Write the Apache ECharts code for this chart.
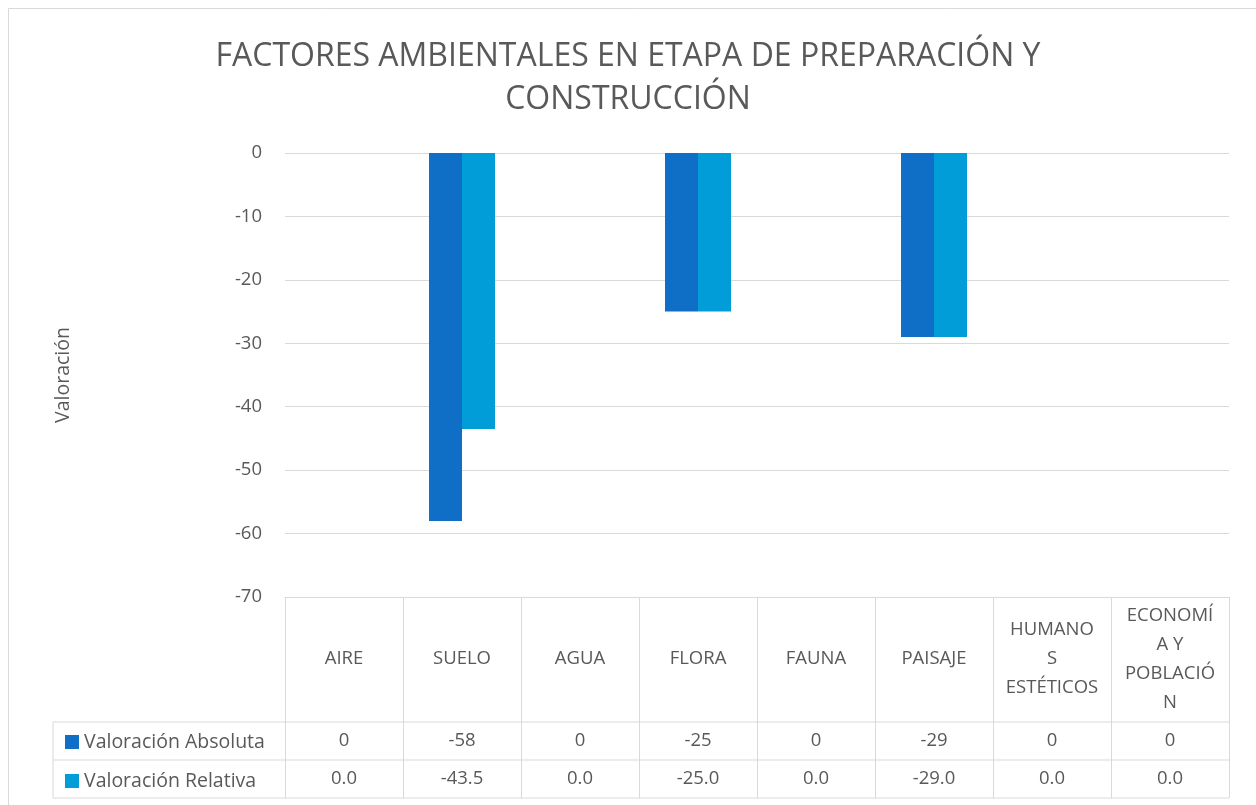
<!DOCTYPE html>
<html>
<head>
<meta charset="utf-8">
<script src="https://cdn.jsdelivr.net/npm/echarts@6/dist/echarts.min.js"></script>
<style>
  html, body { margin: 0; padding: 0; background: #fff; }
  #chart { width: 1256px; height: 805px; }
</style>
</head>
<body>
<div id="chart"></div>
<script>
const categorias = ['AIRE', 'SUELO', 'AGUA', 'FLORA', 'FAUNA', 'PAISAJE', 'HUMANO\nS\nESTÉTICOS', 'ECONOMÍ\nA Y\nPOBLACIÓ\nN'];
const valAbsoluta = [0, -58, 0, -25, 0, -29, 0, 0];
const valRelativa = [0, -43.5, 0, -25, 0, -29, 0, 0];
const ticksY = [0, -10, -20, -30, -40, -50, -60, -70];

const gris = '#595959';
const linea = '#d9d9d9';
const fuente = 'Open Sans';
const tam = 18.5;

// posicion del area de trazado
const gLeft = 285, gRight = 1229, gTop = 153, gBottom = 597;
const filaCab = 722, fila1 = 760, fila2 = 798, tablaIzq = 53;

const chart = echarts.init(document.getElementById('chart'));

const option = {
  animation: false,
  backgroundColor: '#fff',
  textStyle: { fontFamily: fuente },
  title: {
    text: 'FACTORES AMBIENTALES EN ETAPA DE PREPARACIÓN Y\nCONSTRUCCIÓN',
    left: 'center',
    top: 30,
    textStyle: { fontFamily: fuente, fontSize: 32, fontWeight: 'normal', color: gris, lineHeight: 43 }
  },
  legend: {
    orient: 'vertical',
    left: 60,
    top: 727,
    icon: 'rect',
    itemWidth: 14,
    itemHeight: 14,
    itemGap: 19,
    textStyle: { fontFamily: fuente, fontSize: 19.5, color: gris, lineHeight: 18 },
    data: ['Valoración Absoluta', 'Valoración Relativa']
  },
  grid: { left: gLeft, right: 1256 - gRight, top: gTop, bottom: 805 - gBottom, containLabel: false },
  xAxis: [
    {
      type: 'category',
      data: categorias,
      position: 'bottom',
      axisLine: { show: true, onZero: false, lineStyle: { color: linea, width: 1 } },
      axisTick: { show: true, length: fila2 - gBottom, interval: 0, lineStyle: { color: linea, width: 1 } },
      axisLabel: {
        interval: 0, margin: 62, verticalAlign: 'middle', lineHeight: 29,
        fontFamily: fuente, fontSize: tam, color: gris
      },
      splitLine: { show: false }
    },
    {
      type: 'category',
      data: categorias,
      position: 'bottom',
      axisLine: { show: false, onZero: false },
      axisTick: { show: false },
      axisLabel: {
        interval: 0, margin: 144, verticalAlign: 'middle',
        fontFamily: fuente, fontSize: tam, color: gris,
        formatter: (v, i) => String(valAbsoluta[i])
      }
    },
    {
      type: 'category',
      data: categorias,
      position: 'bottom',
      axisLine: { show: false, onZero: false },
      axisTick: { show: false },
      axisLabel: {
        interval: 0, margin: 182, verticalAlign: 'middle',
        fontFamily: fuente, fontSize: tam, color: gris,
        formatter: (v, i) => valRelativa[i].toFixed(1)
      }
    }
  ],
  yAxis: {
    type: 'value',
    min: ticksY[ticksY.length - 1],
    max: ticksY[0],
    interval: 10,
    name: 'Valoración',
    nameLocation: 'middle',
    nameGap: 212,
    nameRotate: 90,
    nameTextStyle: { fontFamily: fuente, fontSize: 19.5, color: gris },
    axisLine: { show: false },
    axisTick: { show: false },
    axisLabel: { margin: 23, fontFamily: fuente, fontSize: tam, color: gris },
    splitLine: { lineStyle: { color: linea, width: 1 } }
  },
  series: [
    {
      name: 'Valoración Absoluta',
      type: 'bar',
      xAxisIndex: 0,
      barWidth: 33,
      barGap: '0%',
      itemStyle: { color: '#0F6FC6' },
      data: valAbsoluta
    },
    {
      name: 'Valoración Relativa',
      type: 'bar',
      xAxisIndex: 0,
      barWidth: 33,
      barGap: '0%',
      itemStyle: { color: '#009DD9' },
      data: valRelativa
    }
  ],
  graphic: [
    // borde del grafico
    { type: 'rect', shape: { x: 8.5, y: 8.5, width: 1270, height: 820 }, style: { fill: null, stroke: linea, lineWidth: 1 }, silent: true },
    // lineas de la tabla de datos
    { type: 'line', shape: { x1: tablaIzq, y1: filaCab, x2: gRight, y2: filaCab }, style: { stroke: linea, lineWidth: 1 } },
    { type: 'line', shape: { x1: tablaIzq, y1: fila1, x2: gRight, y2: fila1 }, style: { stroke: linea, lineWidth: 1 } },
    { type: 'line', shape: { x1: tablaIzq, y1: fila2, x2: gRight, y2: fila2 }, style: { stroke: linea, lineWidth: 1 } },
    { type: 'line', shape: { x1: tablaIzq, y1: filaCab, x2: tablaIzq, y2: fila2 }, style: { stroke: linea, lineWidth: 1 } }
  ]
};

chart.setOption(option);
</script>
</body>
</html>
